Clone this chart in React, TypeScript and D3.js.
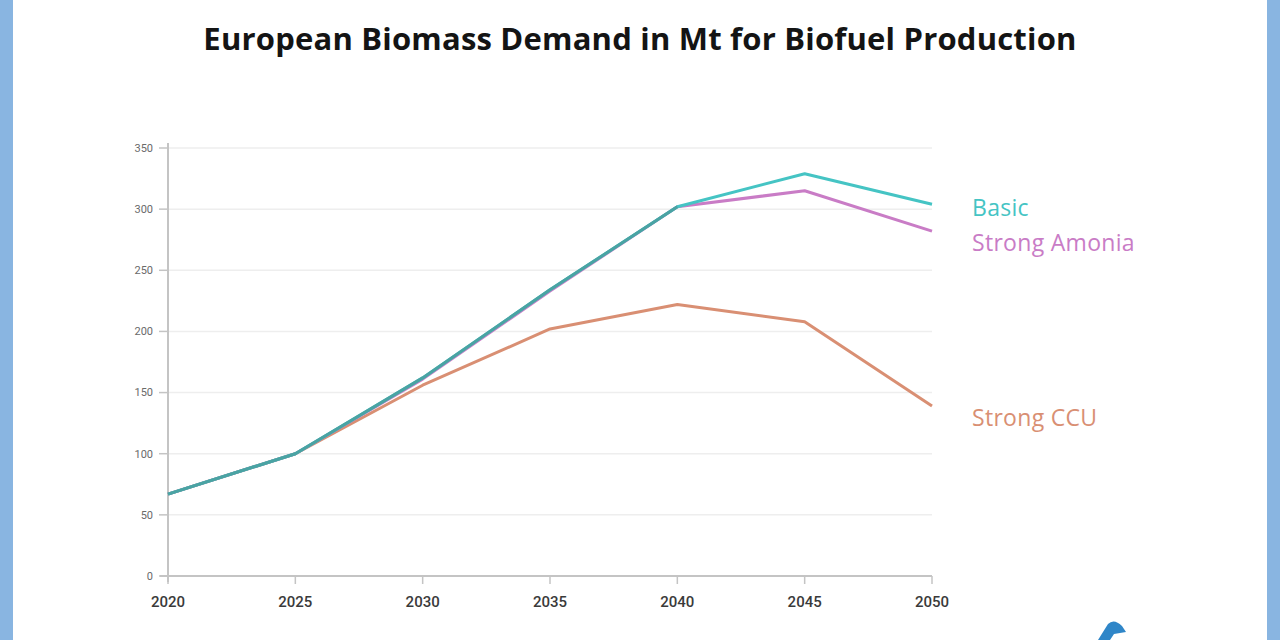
import React from "react";
import * as d3 from "d3";

const years = [2020, 2025, 2030, 2035, 2040, 2045, 2050];
const basic = [67, 100, 162, 234, 302, 329, 304];
const strongAmonia = [67, 100, 161, 233, 302, 315, 282];
const strongCCU = [67, 100, 156, 202, 222, 208, 139];
const yTicks = [0, 50, 100, 150, 200, 250, 300, 350];
const seriesNames = ["Strong CCU", "Strong Amonia", "Basic"];
const seriesColors = ["#d98f73", "#c97cc6", "#45c4c4"];
const seriesValues = [strongCCU, strongAmonia, basic];
const title = "European Biomass Demand in Mt for Biofuel Production";

const W = 1280;
const H = 640;
const margin = { left: 168, right: 348, top: 148, bottom: 64 };

export default function App() {
  const x = d3
    .scaleLinear()
    .domain([2020, 2050])
    .range([margin.left, W - margin.right]);
  const y = d3
    .scaleLinear()
    .domain([0, 350])
    .range([H - margin.bottom, margin.top]);
  const line = d3
    .line<number>()
    .x((_, i) => x(years[i]))
    .y((d) => y(d));

  const labelOffsets = [20, 20, 12];
  const fontTick = "Roboto, 'Open Sans', sans-serif";

  return (
    <svg
      width={W}
      height={H}
      style={{ position: "fixed", left: 0, top: 0, background: "#fff" }}
      fontFamily={fontTick}
    >
      <rect x={0} y={0} width={W} height={H} fill="#fff" />
      <rect x={0} y={0} width={13} height={H} fill="#89b5e1" />
      <rect x={W - 13} y={0} width={13} height={H} fill="#89b5e1" />

      <text
        x={640}
        y={50}
        textAnchor="middle"
        fontSize={31}
        fontWeight={700}
        fill="#141414"
        letterSpacing={0.2}
        fontFamily="'Open Sans', Roboto, sans-serif"
      >
        {title}
      </text>

      {/* gridlines */}
      {yTicks.map((t) => (
        <line
          key={"g" + t}
          x1={x(2020)}
          x2={x(2050)}
          y1={y(t)}
          y2={y(t)}
          stroke="#eeeeee"
          strokeWidth={1.5}
        />
      ))}

      {/* y axis */}
      <line
        x1={x(2020)}
        x2={x(2020)}
        y1={y(350) - 5}
        y2={y(0) + 6}
        stroke="#c4c4c4"
        strokeWidth={2}
      />
      {yTicks.map((t) => (
        <g key={"yt" + t}>
          <line
            x1={x(2020) - 9}
            x2={x(2020)}
            y1={y(t)}
            y2={y(t)}
            stroke="#c4c4c4"
            strokeWidth={1.5}
          />
          <text
            x={x(2020) - 15}
            y={y(t)}
            dy="0.35em"
            textAnchor="end"
            fontSize={11}
            fill="#6a6a6a"
          >
            {t}
          </text>
        </g>
      ))}

      {/* x axis */}
      <line
        x1={x(2020) - 8}
        x2={x(2050)}
        y1={y(0)}
        y2={y(0)}
        stroke="#c4c4c4"
        strokeWidth={2}
      />
      {years.map((yr) => (
        <g key={"xt" + yr}>
          <line
            x1={x(yr)}
            x2={x(yr)}
            y1={y(0)}
            y2={y(0) + 8}
            stroke="#c4c4c4"
            strokeWidth={1.5}
          />
          <text
            x={x(yr)}
            y={y(0) + 31}
            textAnchor="middle"
            fontSize={15}
            fontWeight={500}
            fill="#3a3a3a"
          >
            {yr}
          </text>
        </g>
      ))}

      {/* lines */}
      {seriesValues.map((vals, i) => (
        <path
          key={seriesNames[i]}
          d={line(vals) || ""}
          fill="none"
          stroke={seriesColors[i]}
          strokeWidth={3}
          strokeLinejoin="round"
        />
      ))}
      {/* overlap shading of shared early segment */}
      <path
        d={line(basic.slice(0, 5)) || ""}
        fill="none"
        stroke="#4aa3a3"
        strokeWidth={3}
        strokeLinejoin="round"
      />

      {/* labels */}
      {seriesValues.map((vals, i) => (
        <text
          key={"l" + seriesNames[i]}
          x={972}
          y={y(vals[vals.length - 1]) + labelOffsets[i]}
          fontSize={23}
          fontWeight={500}
          fill={seriesColors[i]}
          fontFamily="'Open Sans', Roboto, sans-serif"
          letterSpacing={0.3}
        >
          {seriesNames[i]}
        </text>
      ))}

      {/* logo fragment */}
      <path
        d="M1098,640 L1108,624 Q1114,618 1122,626 L1126,632 L1114,634 L1110,640 Z"
        fill="#2f86c8"
      />
    </svg>
  );
}
